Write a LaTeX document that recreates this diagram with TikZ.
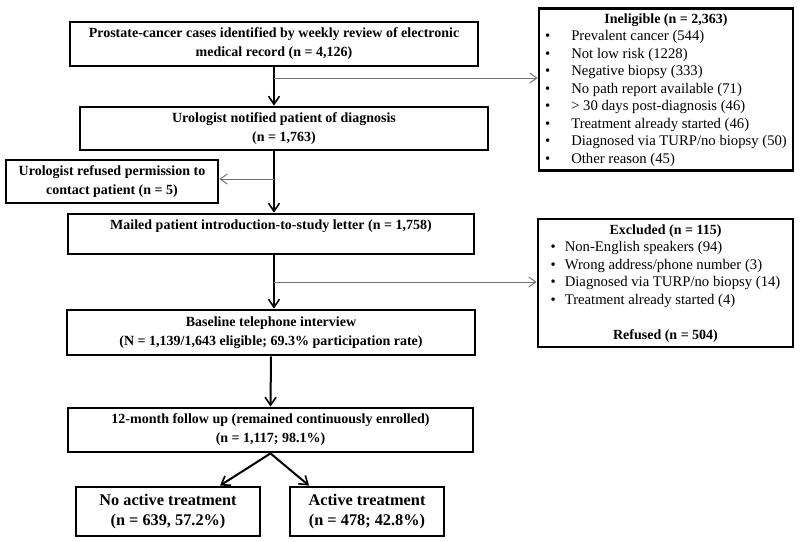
\documentclass[tikz,border=0pt]{standalone}
\usepackage{fontspec}
\setmainfont{Liberation Serif}
\usetikzlibrary{arrows.meta,positioning}
\tikzset{%
	block/.style     = {draw, rectangle, line width=2.8pt, align=center, inner sep=2pt, font=\fontsize{14}{19}\selectfont\bfseries},
	bigblock/.style  = {block, font=\fontsize{16.3}{20}\selectfont\bfseries},
	listbox/.style   = {draw, rectangle, line width=2.8pt, inner sep=2pt, font=\fontsize{14.7}{17.5}\selectfont},
	waypoint/.style  = {coordinate},
	arrow/.style     = {line width=2pt, -{Straight Barb[length=8pt,width=11pt,line width=1.6pt]}},
	sidearrow/.style = {line width=1pt, black!55, -{Straight Barb[length=7pt,width=10pt]}},
}
\newcommand{\listhead}[1]{\multicolumn{2}{c}{\fontsize{14}{17.5}\selectfont\bfseries #1}}

\begin{document}
\begin{tikzpicture}[x=1pt,y=-1pt]
	\useasboundingbox (0,0) rectangle (800,541);
	% main column
	\node [block,minimum width=408pt,minimum height=44pt] (cases) at (274,44) {Prostate-cancer cases identified by weekly review of electronic\\ medical record (n = 4,126)};
	\node [block,minimum width=408pt,minimum height=43pt] (notified) at (284,128.5) {Urologist notified patient of diagnosis\\ (n = 1,763)};
	\node [block,minimum width=212pt,minimum height=43pt] (refused) at (112,181.5) {Urologist refused permission to\\ contact patient (n = 5)};
	\node [block,minimum width=406pt,minimum height=40pt] (mailed) at (271,234) {Mailed patient introduction-to-study letter (n = 1,758)\\ \mbox{}};
	\node [block,minimum width=408pt,minimum height=45pt] (baseline) at (271,332.5) {Baseline telephone interview\\ (N = 1,139/1,643 eligible; 69.3\% participation rate)};
	\node [block,minimum width=405pt,minimum height=44pt] (followup) at (270.5,430) {12-month follow up (remained continuously enrolled)\\ (n = 1,117; 98.1\%)};
	\node [bigblock,minimum width=184pt,minimum height=49pt] (noact) at (168,511.5) {No active treatment\\ (n = 639, 57.2\%)};
	\node [bigblock,minimum width=154pt,minimum height=49pt] (act) at (367,511.5) {Active treatment\\ (n = 478; 42.8\%)};
	% side boxes
	\node [listbox,minimum width=254pt,minimum height=161pt] (inelig) at (666,89.5) {\begin{tabular}{@{}l@{\hspace{21pt}}l@{}}
		\listhead{Ineligible (n = 2,363)}\\
		\textbullet & Prevalent cancer (544)\\
		\textbullet & Not low risk (1228)\\
		\textbullet & Negative biopsy (333)\\
		\textbullet & No path report available (71)\\
		\textbullet & > 30 days post-diagnosis (46)\\
		\textbullet & Treatment already started (46)\\
		\textbullet & Diagnosed via TURP/no biopsy (50)\\
		\textbullet & Other reason (45)
	\end{tabular}};
	\node [listbox,minimum width=255pt,minimum height=128pt] (excl) at (665.5,283) {\begin{tabular}{@{}l@{\hspace{9pt}}l@{}}
		\listhead{Excluded (n = 115)}\\
		\textbullet & Non-English speakers (94)\\
		\textbullet & Wrong address/phone number (3)\\
		\textbullet & Diagnosed via TURP/no biopsy (14)\\
		\textbullet & Treatment already started (4)\\
		& \\
		\listhead{Refused (n = 504)}
	\end{tabular}};
	\node [waypoint] (w1) at (274,78) {};
	\node [waypoint] (w2) at (274,179) {};
	\node [waypoint] (w3) at (274,282) {};

	\draw [arrow] (cases.south) -- (cases.south |- notified.north);
	\draw [sidearrow] (w1) -- (w1 -| inelig.west);
	\draw [arrow] (notified.south -| w2) -- (mailed.north -| w2);
	\draw [sidearrow] (w2) -- (w2 -| refused.east);
	\draw [arrow] (mailed.south -| w3) -- (baseline.north -| w3);
	\draw [sidearrow] (w3) -- (w3 -| excl.west);
	\draw [arrow] (baseline.south) -- (followup.north);
	\draw [arrow] (followup.south) -- ([xshift=52pt]noact.north);
	\draw [arrow] (followup.south) -- ([xshift=-58pt]act.north);
\end{tikzpicture}
\end{document}
